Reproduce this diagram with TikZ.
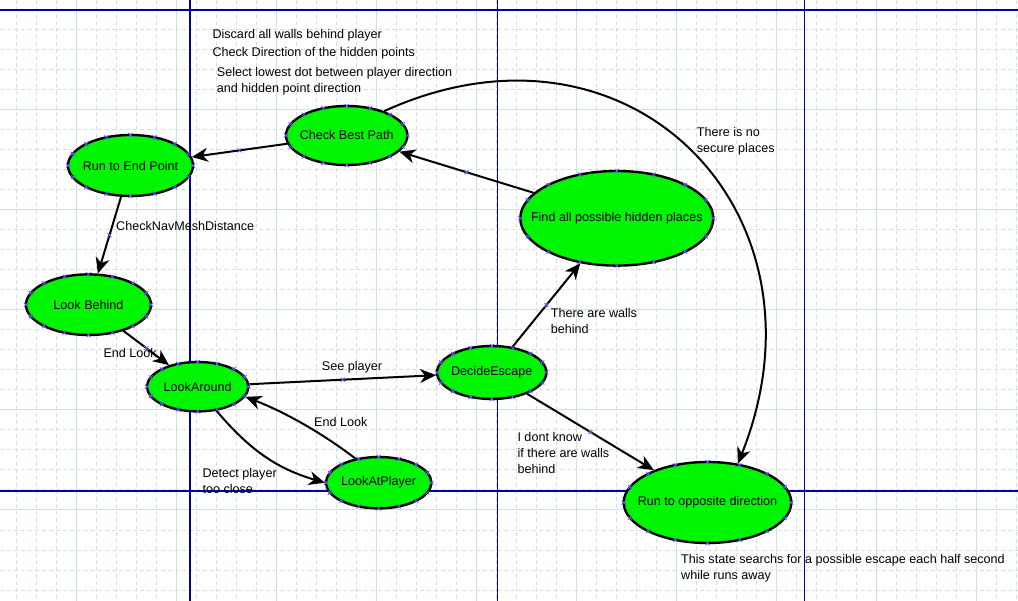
\documentclass[tikz,border=0pt]{standalone}
\usepackage{fontspec}
\setmainfont{Liberation Sans}
\usetikzlibrary{arrows.meta,shapes.geometric,calc}
\definecolor{gridc}{RGB}{208,226,224}
\definecolor{pageblue}{RGB}{0,0,168}
\definecolor{stgreen}{RGB}{0,245,0}
\definecolor{xblue}{RGB}{90,90,255}
\newcommand\ctext[1]{\makebox[0pt]{#1}}
\begin{document}
\begin{tikzpicture}[x=1pt,y=-1pt,
  every node/.style={font=\fontsize{12.6}{16}\selectfont},
  stnode/.style={ellipse, draw=black, line width=2.4pt, fill=stgreen, inner sep=0pt},
  conn/.style={line width=2pt, -{Stealth[length=16pt,width=14pt,inset=5pt]}},
  lbl/.style={anchor=base west, align=left, inner sep=0pt},
  gridd/.style={gridc, line width=1pt, dash pattern=on 4pt off 3pt},
  grids/.style={gridc, line width=1pt},
  bluel/.style={pageblue, line width=1.1pt},
  xmkline/.style={xblue, line width=0.8pt},
  xmk/.pic={\draw[xmkline] (-2,-2) -- (2,2) (-2,2) -- (2,-2);}
]
\useasboundingbox (0,0) rectangle (1018,601);
\fill[white] (0,0) rectangle (1018,601);
% grid
\foreach \i in {0,...,50} \draw[gridd] ({16.7+20*\i},0) -- ({16.7+20*\i},601);
\foreach \j in {0,...,29} \draw[gridd] (0,{10+20*\j}) -- (1018,{10+20*\j});
\foreach \i in {0,...,9} \draw[grids] ({76.7+100*\i},0) -- ({76.7+100*\i},601);
\foreach \j in {0,...,5} \draw[grids] (0,{10+100*\j}) -- (1018,{10+100*\j});
\foreach \xx in {190,497.3,804.3} \draw[bluel] (\xx,0) -- (\xx,601);
\foreach \yy in {10,491} \draw[bluel] (0,\yy) -- (1018,\yy);

% states
\node[stnode, minimum width=125pt, minimum height=61pt] (rtep) at (130.5,165.5) {\ctext{Run to End Point}};
\node[stnode, minimum width=121.4pt, minimum height=59pt] (cbp) at (346.7,135.5) {\ctext{Check Best Path}};
\node[stnode, minimum width=125pt, minimum height=60.6pt] (lb) at (88.5,304.7) {\ctext{Look Behind}};
\node[stnode, minimum width=101.4pt, minimum height=49.4pt] (la) at (197.7,386.7) {\ctext{LookAround}};
\node[stnode, minimum width=109.4pt, minimum height=53pt] (de) at (491.7,372.5) {\ctext{DecideEscape}};
\node[stnode, minimum width=105.4pt, minimum height=51.4pt] (lap) at (378.7,482.7) {\ctext{LookAtPlayer}};
\node[stnode, minimum width=193pt, minimum height=94.6pt] (fahp) at (616.8,218.3) {\ctext{Find all possible hidden places}};
\node[stnode, minimum width=167.6pt, minimum height=81pt] (rod) at (707.5,502.5) {\ctext{Run to opposite direction}};

% transitions
\draw[conn] (cbp) -- coordinate[pos=.5] (m1) (rtep);
\draw[conn] (rtep) -- coordinate[pos=.5] (m2) (lb);
\draw[conn] (lb) -- coordinate[pos=.5] (m3) (la);
\draw[conn] (la) -- coordinate[pos=.5] (m4) (de);
\draw[conn] (de) -- coordinate[pos=.5] (m5) (fahp);
\draw[conn] (de) -- coordinate[pos=.5] (m6) (rod);
\draw[conn] (fahp) -- coordinate[pos=.5] (m7) (cbp);
\draw[conn] (la.-52) .. controls +(33,39) and +(-48,-14) .. (lap.west);
\draw[conn] (lap.134) .. controls +(-33.8,-25.8) and +(39.6,15.4) .. (la.-12);
\draw[conn] (cbp.33) .. controls +(245.7,-111.8) and +(100.2,-250.6) .. (rod.52);

% connection marks
\foreach \n/\a/\b in {rtep/62.5/30.5, cbp/60.7/29.5, lb/62.5/30.3, la/50.7/24.7, de/54.7/26.5, lap/52.7/25.7, fahp/96.5/47.3, rod/83.8/40.5}
  \foreach \t in {0,22.5,...,337.5}
    \path ($(\n.center)+({\a*cos(\t)},{\b*sin(\t)})$) pic{xmk};
\foreach \m in {m1,m2,m3,m4,m5,m6,m7} \path (\m) pic{xmk};

% labels (base anchor = baseline of the last line)
\node[lbl] (t1) at (212.3,38.8) {Discard all walls behind player};
\node[lbl] (t2) at (212.3,56.8) {Check Direction of the hidden points};
\node[lbl] (t3) at (216.7,92.8) {Select lowest dot between player direction\\and hidden point direction};
\node[lbl] (t4) at (116,230.2) {CheckNavMeshDistance};
\node[lbl] (t5) at (103.3,357.8) {End Look};
\node[lbl] (t6) at (321.7,370.2) {See player};
\node[lbl] (t7) at (314,426.5) {End Look};
\node[lbl] (t8) at (202.3,493.8) {Detect player\\too close};
\node[lbl] (t9) at (550.7,333.8) {There are walls\\behind};
\node[lbl] (t10) at (517.3,473.2) {I dont know\\if there are walls\\behind};
\node[lbl] (t11) at (696.7,152.2) {There is no\\secure places};
\node[lbl] (t12) at (681,579.5) {This state searchs for a possible escape each half second\\while runs away};
\end{tikzpicture}
\end{document}
